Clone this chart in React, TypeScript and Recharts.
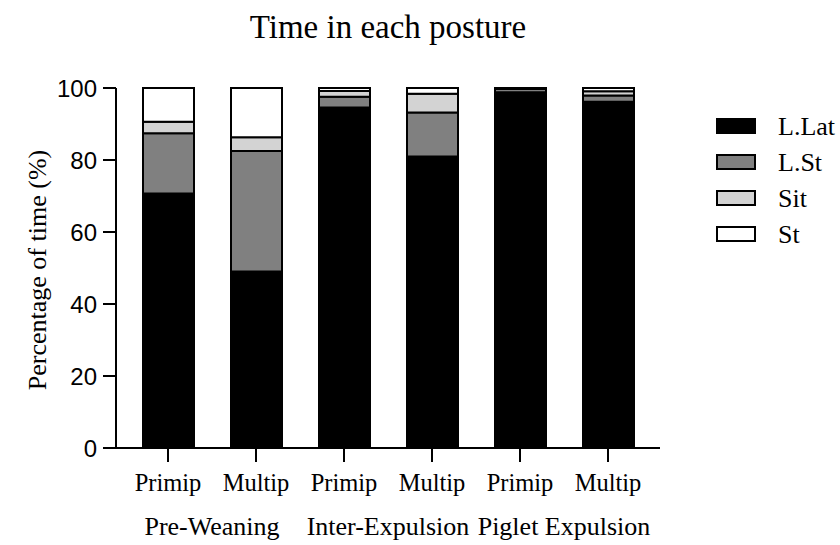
import React from 'react';
import { BarChart, Bar, XAxis, YAxis } from 'recharts';

const stages = ['Pre-Weaning', 'Inter-Expulsion', 'Piglet Expulsion'];
const parities = ['Primip', 'Multip', 'Primip', 'Multip', 'Primip', 'Multip'];

// percentage of time per posture, one value per bar
const lLat = [70.7, 49.0, 94.6, 81.0, 98.8, 96.2];
const lSt = [16.7, 33.5, 3.0, 12.2, 0.9, 1.7];
const sit = [3.2, 3.8, 1.6, 5.2, 0.2, 1.2];
const st = [9.4, 13.7, 0.8, 1.6, 0.1, 0.9];

const yTicks = [0, 20, 40, 60, 80, 100];

const postures = [
  { key: 'lLat', name: 'L.Lat', color: '#000000' },
  { key: 'lSt', name: 'L.St', color: '#808080' },
  { key: 'sit', name: 'Sit', color: '#d3d3d3' },
  { key: 'st', name: 'St', color: '#ffffff' },
];

const data = parities.map((p, i) => ({
  id: String(i),
  parity: p,
  lLat: lLat[i],
  lSt: lSt[i],
  sit: sit[i],
  st: st[i],
}));

const SERIF = '"Liberation Serif", "Times New Roman", serif';
const SANS = '"Liberation Sans", Arial, sans-serif';

function ParityTick(props: any) {
  const { x, y, index } = props;
  const group = index % 2 === 0 ? stages[index / 2] : null;
  return (
    <g>
      <text x={x} y={y + 29} textAnchor="middle" fontFamily={SERIF} fontSize={24.5} fill="#000">
        {parities[index]}
      </text>
      {group && (
        <text x={x + 44} y={y + 73} textAnchor="middle" fontFamily={SERIF} fontSize={26} fill="#000">
          {group}
        </text>
      )}
    </g>
  );
}

export default function App() {
  return (
    <div style={{ position: 'absolute', left: 0, top: 0, width: 840, height: 545, background: '#fff' }}>
      <BarChart
        width={840}
        height={545}
        data={data}
        margin={{ top: 88, right: 180, bottom: 0, left: 0 }}
        barSize={51}
      >
        <XAxis
          dataKey="id"
          height={97}
          padding={{ left: 8, right: 8 }}
          axisLine={{ stroke: '#000', strokeWidth: 2 }}
          tickLine={{ stroke: '#000', strokeWidth: 2 }}
          tickSize={14}
          tickMargin={0}
          tick={<ParityTick />}
          interval={0}
        />
        <YAxis
          width={116}
          domain={[0, 100]}
          ticks={yTicks}
          axisLine={{ stroke: '#000', strokeWidth: 2 }}
          tickLine={{ stroke: '#000', strokeWidth: 2 }}
          tickSize={13}
          tickMargin={6}
          tick={{ fontFamily: SANS, fontSize: 24, fill: '#000' }}
        />
        {postures.map((p) => (
          <Bar
            key={p.key}
            dataKey={p.key}
            name={p.name}
            stackId="a"
            fill={p.color}
            stroke="#000"
            strokeWidth={2}
            isAnimationActive={false}
          />
        ))}
      </BarChart>
      <svg
        width={840}
        height={545}
        style={{ position: 'absolute', left: 0, top: 0, pointerEvents: 'none' }}
      >
        <text x={388} y={38} textAnchor="middle" fontFamily={SERIF} fontSize={33} fill="#000">
          Time in each posture
        </text>
        <text
          transform="translate(46,270) rotate(-90)"
          textAnchor="middle"
          fontFamily={SERIF}
          fontSize={26}
          fill="#000"
        >
          Percentage of time (%)
        </text>
        {postures.map((p, i) => (
          <g key={p.key}>
            <rect x={717} y={119 + i * 36} width={38} height={14} fill={p.color} stroke="#000" strokeWidth={2} />
            <text x={778} y={135 + i * 36} fontFamily={SERIF} fontSize={26} fill="#000">
              {p.name}
            </text>
          </g>
        ))}
      </svg>
    </div>
  );
}
